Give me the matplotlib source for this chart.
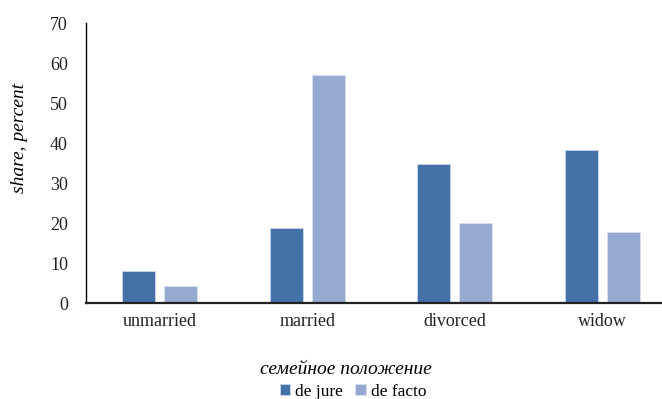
import numpy as np
import matplotlib.pyplot as plt

plt.rcParams['font.family'] = ['Liberation Serif', 'DejaVu Serif']

# Marital status shares
categories = ['unmarried', 'married', 'divorced', 'widow']
de_jure = [8.0, 18.8, 34.8, 38.3]
de_facto = [4.4, 57.2, 20.2, 17.9]

fig = plt.figure(figsize=(6.62, 3.99), dpi=100)
ax = fig.add_axes([86 / 662, 1 - 303.3 / 399, 590 / 662, 280 / 399])

x = np.arange(len(categories))
w = 0.223
off = 0.142
ax.bar(x - off, de_jure, w, color='#4472A8', edgecolor='#C9D6EA', linewidth=0.6, label='de jure')
ax.bar(x + off, de_facto, w, color='#95A9D1', edgecolor='#D8E0F0', linewidth=0.6, label='de facto')

ax.set_xlim(-0.5, 3.5)
ax.set_ylim(0, 70)
ax.set_yticks(range(0, 71, 10))
ax.set_xticks(x)
ax.set_xticklabels(categories)
ax.tick_params(axis='both', length=0, labelsize=13, colors='#222222')
ax.tick_params(axis='y', pad=13)
ax.tick_params(axis='x', pad=7)

for s in ['top', 'right']:
    ax.spines[s].set_visible(False)
ax.spines['left'].set_linewidth(1.0)
ax.spines['bottom'].set_linewidth(1.6)
ax.spines['bottom'].set_color('#222222')

fig.text(20 / 662, 1 - 138 / 399, 'share, percent', rotation=90, style='italic',
         fontsize=14, ha='center', va='center')
fig.text(346 / 662, 1 - 370 / 399, 'семейное положение', style='italic',
         fontsize=14, ha='center', va='center')

fig.legend(loc='center', bbox_to_anchor=(353 / 662, 1 - 392 / 399), ncol=2, frameon=False,
           fontsize=12.5, handlelength=0.6, handleheight=0.6, handletextpad=0.3,
           columnspacing=0.7, borderpad=0)

fig.savefig('out.png', dpi=100)
